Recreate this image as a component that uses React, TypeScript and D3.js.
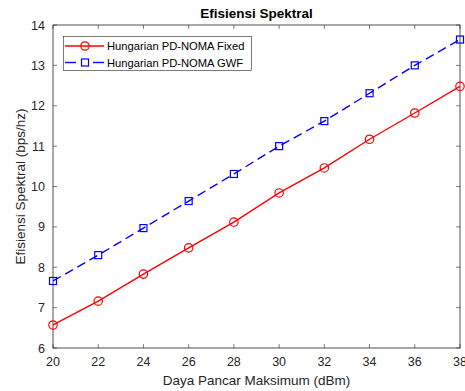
import React, { useRef, useEffect } from 'react';
import { select, scaleLinear, line } from 'd3';

const power = [20, 22, 24, 26, 28, 30, 32, 34, 36, 38];
const fixedValues = [6.57, 7.16, 7.83, 8.48, 9.12, 9.84, 10.46, 11.17, 11.82, 12.48];
const gwfValues = [7.66, 8.30, 8.97, 9.64, 10.31, 11.0, 11.62, 12.31, 13.0, 13.64];
const xTicks = [20, 22, 24, 26, 28, 30, 32, 34, 36, 38];
const yTicks = [6, 7, 8, 9, 10, 11, 12, 13, 14];
const seriesNames = ['Hungarian PD-NOMA Fixed', 'Hungarian PD-NOMA GWF'];

const W = 465;
const H = 391;
const FONT = '"Liberation Sans", Arial, Helvetica, sans-serif';

const App: React.FC = () => {
  const svgRef = useRef<SVGSVGElement | null>(null);

  useEffect(() => {
    if (!svgRef.current) return;
    const svg = select(svgRef.current);
    svg.selectAll('*').remove();

    const margin = { top: 25, right: 5, bottom: 43, left: 53 };
    const iw = W - margin.left - margin.right;
    const ih = H - margin.top - margin.bottom;

    const x = scaleLinear().domain([20, 38]).range([margin.left, margin.left + iw]);
    const y = scaleLinear().domain([6, 14]).range([margin.top + ih, margin.top]);

    svg.append('rect').attr('width', W).attr('height', H).attr('fill', '#fff');

    const axisColor = '#262626';
    const tickLen = 4;

    // ticks (inward, all four sides)
    xTicks.forEach(t => {
      svg.append('line').attr('x1', x(t)).attr('x2', x(t)).attr('y1', y(6)).attr('y2', y(6) - tickLen).attr('stroke', axisColor).attr('stroke-width', 0.6);
      svg.append('line').attr('x1', x(t)).attr('x2', x(t)).attr('y1', y(14)).attr('y2', y(14) + tickLen).attr('stroke', axisColor).attr('stroke-width', 0.6);
      svg.append('text').attr('x', x(t)).attr('y', y(6) + 18).attr('text-anchor', 'middle')
        .attr('font-family', FONT).attr('font-size', 12.5).attr('fill', axisColor).text(t);
    });
    yTicks.forEach(t => {
      svg.append('line').attr('x1', x(20)).attr('x2', x(20) + tickLen).attr('y1', y(t)).attr('y2', y(t)).attr('stroke', axisColor).attr('stroke-width', 0.6);
      svg.append('line').attr('x1', x(38)).attr('x2', x(38) - tickLen).attr('y1', y(t)).attr('y2', y(t)).attr('stroke', axisColor).attr('stroke-width', 0.6);
      svg.append('text').attr('x', x(20) - 8).attr('y', y(t) + 4.5).attr('text-anchor', 'end')
        .attr('font-family', FONT).attr('font-size', 12.5).attr('fill', axisColor).text(t);
    });

    svg.append('rect').attr('x', margin.left).attr('y', margin.top).attr('width', iw).attr('height', ih)
      .attr('fill', 'none').attr('stroke', axisColor).attr('stroke-width', 0.8);

    // title and labels
    svg.append('text').attr('x', margin.left + iw / 2).attr('y', 18).attr('text-anchor', 'middle')
      .attr('font-family', FONT).attr('font-size', 13.5).attr('font-weight', 'bold').attr('fill', '#000').text('Efisiensi Spektral');
    svg.append('text').attr('x', margin.left + iw / 2).attr('y', 385).attr('text-anchor', 'middle')
      .attr('font-family', FONT).attr('font-size', 13.5).attr('fill', axisColor).text('Daya Pancar Maksimum (dBm)');
    svg.append('text').attr('transform', `translate(25, ${margin.top + ih / 2}) rotate(-90)`).attr('text-anchor', 'middle')
      .attr('font-family', FONT).attr('font-size', 13.5).attr('fill', axisColor).text('Efisiensi Spektral (bps/hz)');

    const lineGen = line<number>().x((_, i) => x(power[i])).y(d => y(d));

    // fixed series
    svg.append('path').datum(fixedValues).attr('d', lineGen).attr('fill', 'none').attr('stroke', '#ff0000').attr('stroke-width', 1.4);
    svg.selectAll('.fm').data(fixedValues).enter().append('circle')
      .attr('cx', (_, i) => x(power[i])).attr('cy', d => y(d)).attr('r', 4.2)
      .attr('fill', 'none').attr('stroke', '#ff0000').attr('stroke-width', 1.2);

    // gwf series
    svg.append('path').datum(gwfValues).attr('d', lineGen).attr('fill', 'none').attr('stroke', '#0000ff').attr('stroke-width', 1.4)
      .attr('stroke-dasharray', '9,5');
    svg.selectAll('.gm').data(gwfValues).enter().append('rect')
      .attr('x', (_, i) => x(power[i]) - 3.5).attr('y', d => y(d) - 3.5).attr('width', 7).attr('height', 7)
      .attr('fill', 'none').attr('stroke', '#0000ff').attr('stroke-width', 1.2);

    // legend
    const lg = svg.append('g');
    lg.append('rect').attr('x', 63.5).attr('y', 36.5).attr('width', 188).attr('height', 34)
      .attr('fill', '#fff').attr('stroke', axisColor).attr('stroke-width', 0.6);

    // row 1: solid red with circle
    const y1 = 46;
    lg.append('line').attr('x1', 65).attr('x2', 104).attr('y1', y1).attr('y2', y1).attr('stroke', '#ff0000').attr('stroke-width', 1.4);
    lg.append('circle').attr('cx', 85).attr('cy', y1).attr('r', 4.2).attr('fill', 'none').attr('stroke', '#ff0000').attr('stroke-width', 1.2);
    lg.append('text').attr('x', 107).attr('y', y1 + 4).attr('font-family', FONT).attr('font-size', 11.2).attr('fill', '#000').text(seriesNames[0]);

    // row 2: dashed blue with square
    const y2 = 62.5;
    lg.append('line').attr('x1', 65).attr('x2', 76).attr('y1', y2).attr('y2', y2).attr('stroke', '#0000ff').attr('stroke-width', 1.4);
    lg.append('line').attr('x1', 93).attr('x2', 104).attr('y1', y2).attr('y2', y2).attr('stroke', '#0000ff').attr('stroke-width', 1.4);
    lg.append('rect').attr('x', 81.5).attr('y', y2 - 3.5).attr('width', 7).attr('height', 7).attr('fill', 'none').attr('stroke', '#0000ff').attr('stroke-width', 1.2);
    lg.append('text').attr('x', 107).attr('y', y2 + 4).attr('font-family', FONT).attr('font-size', 11.2).attr('fill', '#000').text(seriesNames[1]);
  }, []);

  return (
    <div style={{ position: 'fixed', left: 0, top: 0 }}>
      <svg ref={svgRef} width={W} height={H} style={{ display: 'block' }}></svg>
    </div>
  );
};

export default App;
